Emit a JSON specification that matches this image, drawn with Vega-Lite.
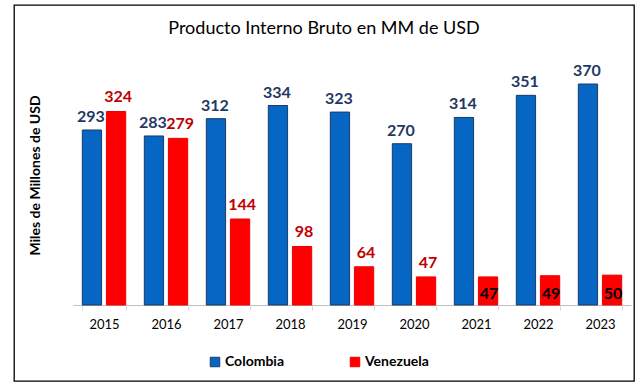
{
  "$schema": "https://vega.github.io/schema/vega-lite/v6.json",
  "width": 620,
  "height": 376,
  "autosize": {"type": "none"},
  "padding": {"left": 14, "top": 5, "right": 9, "bottom": 8},
  "background": "white",
  "config": {
    "font": "Lato",
    "view": {"stroke": "black", "strokeWidth": 1.3},
    "legend": {"labelFont": "Lato", "labelFontWeight": "bold", "labelFontSize": 14, "labelColor": "black"}
  },
  "title": {
    "text": "Producto Interno Bruto en MM de USD",
    "font": "Lato",
    "fontSize": 18,
    "fontWeight": "normal",
    "color": "black",
    "anchor": "middle",
    "baseline": "alphabetic",
    "offset": 0,
    "dy": 47
  },
  "data": {
    "values": [
      {"year": "2015", "country": "Colombia", "value": 293},
      {"year": "2015", "country": "Venezuela", "value": 324},
      {"year": "2016", "country": "Colombia", "value": 283},
      {"year": "2016", "country": "Venezuela", "value": 279},
      {"year": "2017", "country": "Colombia", "value": 312},
      {"year": "2017", "country": "Venezuela", "value": 144},
      {"year": "2018", "country": "Colombia", "value": 334},
      {"year": "2018", "country": "Venezuela", "value": 98},
      {"year": "2019", "country": "Colombia", "value": 323},
      {"year": "2019", "country": "Venezuela", "value": 64},
      {"year": "2020", "country": "Colombia", "value": 270},
      {"year": "2020", "country": "Venezuela", "value": 47},
      {"year": "2021", "country": "Colombia", "value": 314},
      {"year": "2021", "country": "Venezuela", "value": 47},
      {"year": "2022", "country": "Colombia", "value": 351},
      {"year": "2022", "country": "Venezuela", "value": 49},
      {"year": "2023", "country": "Colombia", "value": 370},
      {"year": "2023", "country": "Venezuela", "value": 50}
    ]
  },
  "encoding": {
    "x": {
      "field": "year",
      "type": "nominal",
      "scale": {"range": [59, 617], "paddingInner": 0.3, "paddingOuter": 0.15},
      "axis": {
        "title": null,
        "offset": -76,
        "labelAngle": 0,
        "labelFont": "Lato",
        "labelFontSize": 13,
        "labelColor": "black",
        "labelPadding": 8,
        "domainColor": "#BFBFBF",
        "tickColor": "#D9D9D9",
        "tickSize": 5,
        "tickBand": "extent",
        "grid": false
      }
    },
    "xOffset": {
      "field": "country",
      "type": "nominal",
      "scale": {"paddingInner": 0.2, "paddingOuter": 0}
    },
    "y": {
      "field": "value",
      "type": "quantitative",
      "scale": {"domain": [0, 370], "range": [300, 79], "nice": false},
      "axis": {
        "title": "Miles de Millones de USD",
        "titleFont": "Lato",
        "titleFontSize": 14,
        "titleFontWeight": "bold",
        "titleColor": "black",
        "titleX": 21,
        "titleY": 170,
        "titleAngle": -90,
        "titleBaseline": "middle",
        "titleAlign": "center",
        "domain": false,
        "labels": false,
        "ticks": false,
        "grid": false
      }
    }
  },
  "layer": [
    {
      "mark": {"type": "bar", "strokeWidth": 1},
      "encoding": {
        "color": {
          "field": "country",
          "type": "nominal",
          "scale": {"domain": ["Colombia", "Venezuela"], "range": ["#0566C4", "#FF0000"]},
          "legend": {
            "title": null,
            "orient": "none",
            "direction": "horizontal",
            "legendX": 194,
            "legendY": 350,
            "symbolType": "square",
            "symbolSize": 90,
            "symbolStrokeWidth": 1,
            "columnPadding": 63,
            "labelOffset": 3
          }
        },
        "stroke": {
          "field": "country",
          "type": "nominal",
          "scale": {"domain": ["Colombia", "Venezuela"], "range": ["#1F3864", "#F00000"]},
          "legend": null
        }
      }
    },
    {
      "transform": [{"filter": "datum.country == 'Colombia'"}],
      "mark": {"type": "text", "baseline": "alphabetic", "dy": -8, "dx": -1, "font": "Lato", "fontSize": 16, "fontWeight": "bold", "color": "#1F3864"},
      "encoding": {"text": {"field": "value", "type": "quantitative"}}
    },
    {
      "transform": [{"filter": "datum.country == 'Venezuela' && toNumber(datum.year) <= 2020"}],
      "mark": {"type": "text", "baseline": "alphabetic", "dy": -9, "dx": 2, "font": "Lato", "fontSize": 16, "fontWeight": "bold", "color": "#C00000"},
      "encoding": {"text": {"field": "value", "type": "quantitative"}}
    },
    {
      "transform": [{"filter": "datum.country == 'Venezuela' && toNumber(datum.year) >= 2021"}],
      "mark": {"type": "text", "baseline": "alphabetic", "dy": -6, "dx": 1, "font": "Lato", "fontSize": 16, "fontWeight": "bold", "color": "black"},
      "encoding": {
        "y": {"datum": 0, "type": "quantitative"},
        "text": {"field": "value", "type": "quantitative"}
      }
    }
  ]
}
